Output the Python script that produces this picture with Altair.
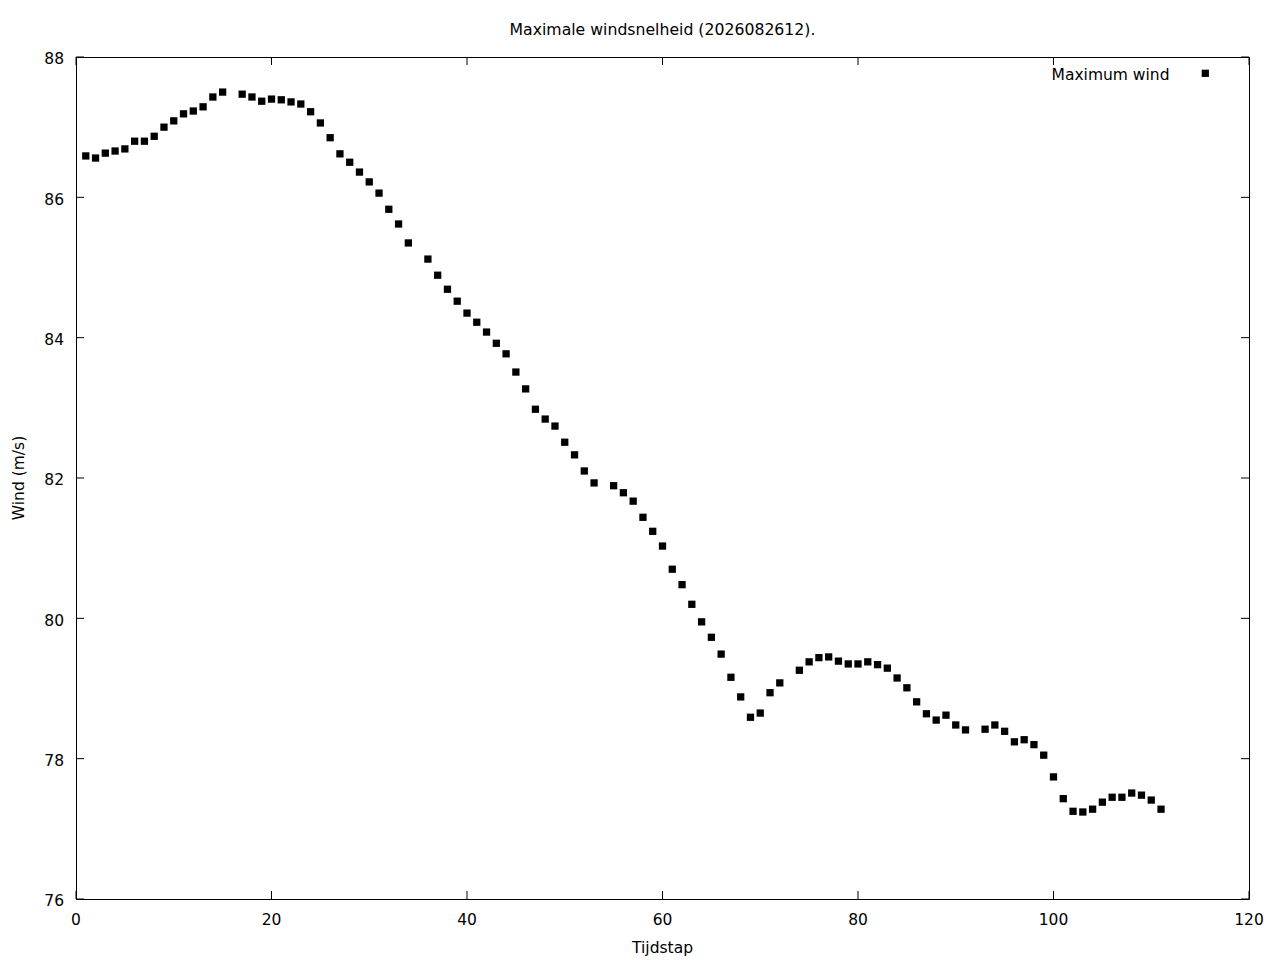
import altair as alt
import pandas as pd

series_name = "Maximum wind"
chart_title = "Maximale windsnelheid (2026082612)."
x_title = "Tijdstap"
y_title = "Wind (m/s)"

tijdstap = [1, 2, 3, 4, 5, 6, 7, 8, 9, 10, 11, 12, 13, 14, 15,
            17, 18, 19, 20, 21, 22, 23, 24, 25, 26, 27, 28, 29, 30,
            31, 32, 33, 34, 36, 37, 38, 39, 40, 41, 42, 43, 44, 45,
            46, 47, 48, 49, 50, 51, 52, 53, 55, 56, 57, 58, 59, 60,
            61, 62, 63, 64, 65, 66, 67, 68, 69, 70, 71, 72, 74, 75,
            76, 77, 78, 79, 80, 81, 82, 83, 84, 85, 86, 87, 88, 89,
            90, 91, 93, 94, 95, 96, 97, 98, 99, 100, 101, 102, 103,
            104, 105, 106, 107, 108, 109, 110, 111]

wind = [86.59, 86.56, 86.63, 86.66, 86.69, 86.80, 86.80, 86.87, 87.00, 87.09,
        87.19, 87.23, 87.29, 87.43, 87.50,
        87.47, 87.43, 87.37, 87.40, 87.39, 87.36, 87.33, 87.22, 87.06, 86.85,
        86.62, 86.50, 86.36, 86.22,
        86.06, 85.83, 85.62, 85.35, 85.12, 84.89, 84.69, 84.52, 84.35, 84.22,
        84.08, 83.92, 83.77, 83.51,
        83.27, 82.98, 82.84, 82.74, 82.51, 82.33, 82.10, 81.93, 81.89, 81.79,
        81.67, 81.44, 81.24, 81.03,
        80.70, 80.48, 80.20, 79.95, 79.73, 79.49, 79.16, 78.88, 78.59, 78.65,
        78.94, 79.08, 79.26, 79.38,
        79.44, 79.45, 79.39, 79.35, 79.35, 79.38, 79.34, 79.29, 79.15, 79.01,
        78.81, 78.64, 78.55, 78.62,
        78.48, 78.41, 78.42, 78.48, 78.39, 78.24, 78.27, 78.20, 78.05, 77.74,
        77.43, 77.25, 77.24,
        77.28, 77.38, 77.45, 77.45, 77.51, 77.48, 77.41, 77.28]

x_ticks = [0, 20, 40, 60, 80, 100, 120]
y_ticks = [76, 78, 80, 82, 84, 86, 88]

W, H = 1173, 842
FONT = "DejaVu Sans"
FS = 15.5
TICK = 8

df = pd.DataFrame({"Tijdstap": tijdstap, "Wind": wind, "serie": series_name})
xt = pd.DataFrame({"xt": x_ticks})
yt = pd.DataFrame({"yt": y_ticks})

xscale = alt.Scale(domain=[0, 120], nice=False, zero=False)
yscale = alt.Scale(domain=[76, 88], nice=False, zero=False)

points = alt.Chart(df).mark_square(size=53, color="black", opacity=1, strokeWidth=0).encode(
    x=alt.X("Tijdstap:Q", scale=xscale, axis=None, title=x_title),
    y=alt.Y("Wind:Q", scale=yscale, axis=None, title=y_title),
)

rule = dict(color="black", strokeWidth=1)
xt_bottom = alt.Chart(xt).mark_rule(**rule).encode(
    x=alt.X("xt:Q", scale=xscale, axis=None), y=alt.value(H), y2=alt.value(H - TICK))
xt_top = alt.Chart(xt).mark_rule(**rule).encode(
    x=alt.X("xt:Q", scale=xscale, axis=None), y=alt.value(0), y2=alt.value(TICK))
yt_left = alt.Chart(yt).mark_rule(**rule).encode(
    y=alt.Y("yt:Q", scale=yscale, axis=None), x=alt.value(0), x2=alt.value(TICK))
yt_right = alt.Chart(yt).mark_rule(**rule).encode(
    y=alt.Y("yt:Q", scale=yscale, axis=None), x=alt.value(W), x2=alt.value(W - TICK))

txt = dict(font=FONT, fontSize=FS, color="black", baseline="alphabetic")
x_labels = alt.Chart(xt).mark_text(align="center", **txt).encode(
    x=alt.X("xt:Q", scale=xscale, axis=None), y=alt.value(H + 26),
    text=alt.Text("xt:Q", format="d"))
y_labels = alt.Chart(yt).mark_text(align="right", dy=7.3, **txt).encode(
    y=alt.Y("yt:Q", scale=yscale, axis=None), x=alt.value(-12),
    text=alt.Text("yt:Q", format="d"))

xt_df = pd.DataFrame({"t": [x_title]})
yt_df = pd.DataFrame({"t": [y_title]})
x_title_mark = alt.Chart(xt_df).mark_text(align="center", **txt).encode(
    text="t:N", x=alt.value(W / 2), y=alt.value(H + 53.7))
y_title_mark = alt.Chart(yt_df).mark_text(align="center", angle=270, **txt).encode(
    text="t:N", x=alt.value(-52.5), y=alt.value(H / 2))

legend_df = pd.DataFrame({"serie": [series_name]})
legend_text = alt.Chart(legend_df).mark_text(align="right", **txt).encode(
    text="serie:N", x=alt.value(1093.5), y=alt.value(23))
legend_sym = alt.Chart(legend_df).mark_square(size=53, color="black", opacity=1, strokeWidth=0).encode(
    x=alt.value(1129.3), y=alt.value(16.3))

chart = alt.layer(
    xt_bottom, xt_top, yt_left, yt_right, x_labels, y_labels,
    x_title_mark, y_title_mark, points, legend_text, legend_sym
).properties(
    width=W, height=H,
    background="white",
    title=alt.TitleParams(chart_title, font=FONT, fontSize=15.7,
                          fontWeight="normal", color="black", anchor="middle", frame="group",
                          baseline="alphabetic", offset=2),
    autosize=alt.AutoSizeParams(type="none"),
    padding={"left": 68, "top": 49, "right": 23, "bottom": 70},
).configure_view(stroke="black", strokeWidth=1)

chart.save("out.html", embed_options={"renderer": "svg", "actions": False})
